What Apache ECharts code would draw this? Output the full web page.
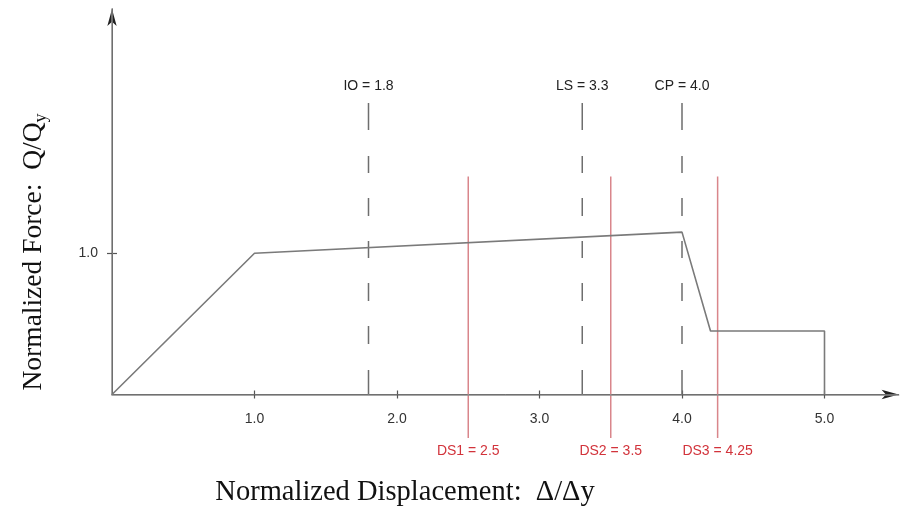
<!DOCTYPE html>
<html>
<head>
<meta charset="utf-8">
<script src="https://cdn.jsdelivr.net/npm/echarts@6/dist/echarts.min.js"></script>
<style>
html,body{margin:0;padding:0;background:#fff;}
#chart{width:901px;height:521px;}
</style>
</head>
<body>
<div id="chart"></div>
<script>
// ---- data ----
const curveX = [0, 1.0, 4.0, 4.2, 5.0, 5.0];
const curveY = [0, 1.0, 1.15, 0.45, 0.45, 0];
const perfNames = ['IO', 'LS', 'CP'];
const perfValues = [1.8, 3.3, 4.0];
const dsNames = ['DS1', 'DS2', 'DS3'];
const dsValues = [2.5, 3.5, 4.25];
const xTickValues = [1, 2, 3, 4, 5];
const yTickValues = [1];
const xTitle = 'Normalized Displacement:  \u0394/\u0394y';
const yTitleMain = 'Normalized Force:  Q/Q';
const yTitleSub = 'y';

// vertical extents of the reference lines (in data units)
const perfTop = 2.064, perfBottom = 0;
const dsTop = 1.544, dsBottom = -0.308;

const xMin = 0, xMax = 5.52, yMin = 0, yMax = 2.73;

const axisGray = '#8a8a8a';
const serif = '"Liberation Serif", "Times New Roman", serif';
const sans = '"Liberation Sans", Arial, sans-serif';

const series = [];
series.push({
  type: 'line',
  data: curveX.map((x, i) => [x, curveY[i]]),
  symbol: 'none',
  lineStyle: { color: '#7a7a7a', width: 1.6 },
  z: 3
});
perfValues.forEach((v, i) => {
  series.push({
    type: 'line',
    data: [
      { value: [v, perfTop], label: { show: true, position: 'top', distance: 10,
        formatter: perfNames[i] + ' = ' + v.toFixed(1), color: '#222', fontSize: 14, fontFamily: sans } },
      [v, perfBottom]
    ],
    symbol: 'circle', symbolSize: 0.01, showSymbol: true,
    itemStyle: { color: 'rgba(0,0,0,0)' },
    clip: false,
    lineStyle: { color: '#6e6e6e', width: 1.5, type: [27, 26, 17, 25, 18, 25, 17, 25, 18, 25, 18, 26, 30, 10] },
    z: 2
  });
});
dsValues.forEach((v, i) => {
  series.push({
    type: 'line',
    data: [
      [v, dsTop],
      { value: [v, dsBottom], label: { show: true, position: 'bottom', distance: 6,
        formatter: dsNames[i] + ' = ' + String(v), color: '#d2333b', fontSize: 14, fontFamily: sans } }
    ],
    symbol: 'circle', symbolSize: 0.01, showSymbol: true,
    itemStyle: { color: 'rgba(0,0,0,0)' },
    clip: false,
    lineStyle: { color: '#d9868b', width: 1.5 },
    z: 2
  });
});

const chart = echarts.init(document.getElementById('chart'), null, { renderer: 'canvas' });
chart.setOption({
  animation: false,
  backgroundColor: '#fff',
  grid: { left: 112, right: 901 - 112 - 142.5 * xMax, top: 394.5 - 141.2 * yMax, bottom: 126.5, containLabel: false },
  xAxis: [{
    type: 'value', min: xMin, max: xMax, z: 3,
    axisLine: { show: true, onZero: false, lineStyle: { color: axisGray, width: 1.5 } },
    axisTick: { show: true, length: 4, customValues: xTickValues, lineStyle: { color: '#555', width: 1.2 } },
    axisLabel: { show: true, customValues: xTickValues, margin: 18, color: '#333', fontSize: 14, fontFamily: sans,
      formatter: v => v.toFixed(1) },
    splitLine: { show: false }
  }, {
    type: 'value', min: xMin, max: xMax, position: 'bottom', z: 2,
    axisLine: { show: true, onZero: false, symbol: ['none', 'arrow'], symbolSize: [7, 17],
      lineStyle: { color: '#222', width: 1 } },
    axisTick: { show: true, inside: true, length: 4, customValues: xTickValues, lineStyle: { color: '#555', width: 1.2 } },
    axisLabel: { show: false },
    splitLine: { show: false }
  }],
  yAxis: [{
    type: 'value', min: yMin, max: yMax, z: 3,
    axisLine: { show: true, onZero: false, lineStyle: { color: axisGray, width: 1.5 } },
    axisTick: { show: true, length: 5, customValues: yTickValues, lineStyle: { color: '#555', width: 1.2 } },
    axisLabel: { show: true, customValues: yTickValues, margin: 14, color: '#333', fontSize: 14, fontFamily: sans,
      formatter: v => v.toFixed(1) },
    splitLine: { show: false }
  }, {
    type: 'value', min: yMin, max: yMax, position: 'left', z: 2,
    axisLine: { show: true, onZero: false, symbol: ['none', 'arrow'], symbolSize: [7, 17],
      lineStyle: { color: '#222', width: 1 } },
    axisTick: { show: true, inside: true, length: 5, customValues: yTickValues, lineStyle: { color: '#555', width: 1.2 } },
    axisLabel: { show: false },
    splitLine: { show: false }
  }],
  graphic: [{
    type: 'text', x: 405, y: 493,
    style: { text: xTitle, font: '28.5px ' + serif, fill: '#111', align: 'center', verticalAlign: 'middle' }
  }, {
    type: 'text', x: 34, y: 252, rotation: Math.PI / 2,
    style: {
      text: '{m|' + yTitleMain + '}{s|' + yTitleSub + '}',
      align: 'center', verticalAlign: 'middle',
      rich: {
        m: { fontSize: 27.5, fontFamily: serif, fill: '#111', color: '#111', lineHeight: 32 },
        s: { fontSize: 18, fontFamily: serif, fill: '#111', color: '#111', lineHeight: 18, padding: [12, 0, 0, 0], verticalAlign: 'bottom' }
      }
    }
  }],
  series: series
});
</script>
</body>
</html>
